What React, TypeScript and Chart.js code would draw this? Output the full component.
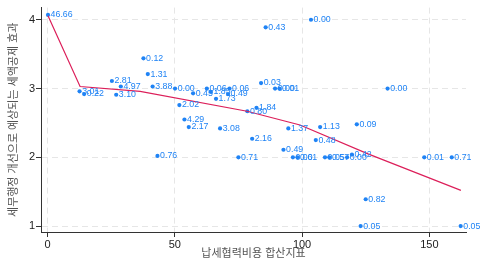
import React, { useEffect, useRef } from "react";
import { Chart, registerables } from "chart.js";

Chart.register(...registerables);

// Scatter points (x = 납세협력비용 합산지표, y = 세액공제 효과) and their labels
const pointX = [
  0.2, 12.6, 14.4, 25.3, 28.8, 27.0, 37.7, 39.4, 41.3, 50.1,
  57.2, 62.6, 64.2, 71.5, 70.9, 66.2, 51.8, 83.9, 89.4, 91.1,
  82.1, 78.5, 53.8, 55.5, 67.8, 94.6, 85.7, 103.5, 133.6, 107.1,
  121.5, 43.2, 75.0, 80.4, 92.7, 96.4, 98.2, 109.0, 110.7, 117.7,
  119.6, 148.0, 158.8, 105.4, 125.0, 123.0, 162.3,
];
const pointY = [
  4.07, 2.96, 2.92, 3.11, 3.03, 2.91, 3.44, 3.21, 3.03, 3.0,
  2.93, 3.0, 2.95, 3.0, 2.92, 2.85, 2.76, 3.08, 3.0, 3.0,
  2.72, 2.67, 2.55, 2.44, 2.42, 2.42, 3.89, 4.0, 3.0, 2.44,
  2.48, 2.02, 2.0, 2.27, 2.11, 2.0, 2.0, 2.0, 2.0, 2.0,
  2.04, 2.0, 2.0, 2.25, 1.39, 1.0, 1.0,
];
const pointLabels = [
  "46.66", "3.01", "0.22", "2.81", "4.97", "3.10", "0.12", "1.31", "3.88", "0.00",
  "0.45", "0.06", "1.85", "0.06", "0.49", "1.73", "2.02", "0.03", "0.00", "0.01",
  "1.84", "0.80", "4.29", "2.17", "3.08", "1.37", "0.43", "0.00", "0.00", "1.13",
  "0.09", "0.76", "0.71", "2.16", "0.49", "0.00", "0.61", "0.05", "0.57", "0.00",
  "0.42", "0.01", "0.71", "0.48", "0.82", "0.05", "0.05",
];

// Fitted (smoothed) line
const fitX = [0.2, 12.8, 36.4, 78.4, 99.2, 125.9, 162.4];
const fitY = [4.06, 3.03, 2.96, 2.67, 2.47, 2.05, 1.52];

const xTicks = [0, 50, 100, 150];
const yTicks = [1, 2, 3, 4];
const xTitle = "납세협력비용 합산지표";
const yTitle = "세무행정 개선으로 예상되는 세액공제 효과";

const BLUE = "#1f83f5";
const RED = "#dc1f5a";
const FONT = '"Liberation Sans", "Noto Sans CJK KR", sans-serif';

const labelPlugin = {
  id: "pointValueLabels",
  afterDatasetsDraw(chart: any) {
    const meta = chart.getDatasetMeta(1);
    const ctx = chart.ctx;
    ctx.save();
    ctx.font = `8.8px ${FONT}`;
    ctx.fillStyle = BLUE;
    ctx.textBaseline = "middle";
    ctx.textAlign = "left";
    meta.data.forEach((el: any, i: number) => {
      ctx.fillText(pointLabels[i], el.x + 2.6, el.y);
    });
    ctx.restore();
  },
};

export default function App() {
  const ref = useRef<HTMLCanvasElement | null>(null);

  useEffect(() => {
    if (!ref.current) return;
    const gridCommon = {
      color: "#e6e6e6",
      lineWidth: 1,
      drawTicks: true,
      tickLength: 5,
      tickColor: "#333",
      tickWidth: 1,
      tickBorderDash: [],
    };
    const chart = new Chart(ref.current, {
      type: "scatter",
      data: {
        datasets: [
          {
            type: "line",
            data: fitX.map((x, i) => ({ x, y: fitY[i] })),
            borderColor: RED,
            borderWidth: 1.2,
            pointRadius: 0,
            fill: false,
            tension: 0,
          } as any,
          {
            data: pointX.map((x, i) => ({ x, y: pointY[i] })),
            backgroundColor: BLUE,
            borderWidth: 0,
            pointRadius: 2.1,
          },
        ],
      },
      options: {
        animation: false,
        responsive: true,
        maintainAspectRatio: false,
        layout: { padding: { top: 5, right: 15, left: 0, bottom: 0 } },
        plugins: {
          legend: { display: false },
          tooltip: { enabled: false },
        },
        scales: {
          x: {
            type: "linear",
            min: -2.55,
            max: 164.4,
            afterBuildTicks: (s: any) => {
              s.ticks = xTicks.map((v) => ({ value: v }));
            },
            afterFit: (s: any) => {
              s.height = 32;
            },
            ticks: {
              font: { size: 11, family: FONT },
              color: "#222",
              padding: 1,
              maxRotation: 0,
              autoSkip: false,
            },
            grid: gridCommon,
            border: { display: true, color: "#333", width: 1, dash: [6, 4] },
            title: {
              display: true,
              text: xTitle,
              font: { size: 11, family: FONT },
              color: "#555",
              padding: { top: 0, bottom: 3 },
            },
          },
          y: {
            type: "linear",
            min: 0.914,
            max: 4.177,
            afterBuildTicks: (s: any) => {
              s.ticks = yTicks.map((v) => ({ value: v }));
            },
            afterFit: (s: any) => {
              s.width = 41;
            },
            ticks: {
              font: { size: 11, family: FONT },
              color: "#222",
              padding: 1,
              autoSkip: false,
            },
            grid: gridCommon,
            border: { display: true, color: "#333", width: 1, dash: [6, 4] },
            title: {
              display: true,
              text: yTitle,
              font: { size: 11, family: FONT },
              color: "#555",
              padding: { top: 7, bottom: 0 },
            },
          },
        },
      },
      plugins: [labelPlugin],
    });
    return () => chart.destroy();
  }, []);

  return (
    <div style={{ position: "absolute", left: 0, top: 0, width: 481, height: 264, background: "#fff" }}>
      <canvas ref={ref} />
    </div>
  );
}
